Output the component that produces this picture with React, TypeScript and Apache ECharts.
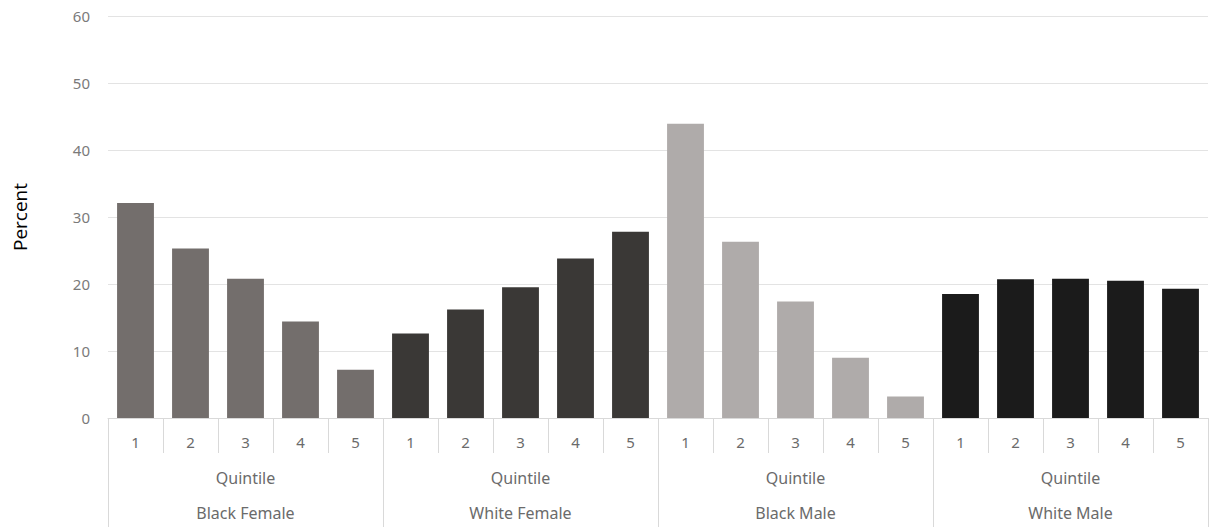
import React, { useEffect, useRef } from "react";
import * as echarts from "echarts";

const groups = ["Black Female", "White Female", "Black Male", "White Male"];
const quintiles = ["1", "2", "3", "4", "5"];
const blackFemale = [32.1, 25.3, 20.8, 14.4, 7.2];
const whiteFemale = [12.6, 16.2, 19.5, 23.8, 27.8];
const blackMale = [43.9, 26.3, 17.4, 9.0, 3.2];
const whiteMale = [18.5, 20.7, 20.8, 20.5, 19.3];
const groupColors = ["#736e6c", "#3a3836", "#afabaa", "#1b1b1b"];
const yTicks = [0, 10, 20, 30, 40, 50, 60];

export default function App() {
  const ref = useRef<HTMLDivElement>(null);
  useEffect(() => {
    if (!ref.current) return;
    const chart = echarts.init(ref.current, undefined, { renderer: "svg" });
    const all = [blackFemale, whiteFemale, blackMale, whiteMale];
    const cats: string[] = [];
    const data: any[] = [];
    all.forEach((arr, gi) => {
      arr.forEach((v, i) => {
        cats.push(quintiles[i]);
        data.push({ value: v, itemStyle: { color: groupColors[gi] } });
      });
    });
    const font = "'Noto Sans', 'Open Sans', sans-serif";
    chart.setOption({
      animation: false,
      grid: {
        left: 108,
        right: 3,
        top: 16,
        bottom: 109,
        containLabel: false,
        outerBoundsMode: "none",
      },
      xAxis: [
        {
          type: "category",
          data: cats,
          axisLine: { show: true, lineStyle: { color: "#d9d9d9", width: 1 } },
          axisTick: { show: true, interval: 0, length: 35, lineStyle: { color: "#d9d9d9" } },
          axisLabel: { interval: 0, color: "#6b6b6b", fontSize: 15, margin: 16, fontFamily: font },
        },
        {
          type: "category",
          data: groups,
          position: "bottom",
          axisLine: { show: false },
          axisTick: { show: true, interval: 0, length: 115, lineStyle: { color: "#d9d9d9" } },
          axisLabel: {
            interval: 0,
            margin: 42,
            color: "#6b6b6b",
            fontSize: 16,
            fontFamily: font,
            lineHeight: 35,
            formatter: (v: string) => "Quintile\n" + v,
          },
        },
      ],
      yAxis: {
        type: "value",
        min: yTicks[0],
        max: yTicks[yTicks.length - 1],
        interval: 10,
        name: "Percent",
        nameLocation: "middle",
        nameRotate: 90,
        nameGap: 79,
        nameTextStyle: { fontSize: 19, color: "#000", fontFamily: "'Open Sans', sans-serif" },
        axisLine: { show: false },
        axisTick: { show: false },
        axisLabel: { color: "#7a7a7a", fontSize: 15, margin: 18, fontFamily: font },
        splitLine: { lineStyle: { color: "#e3e3e3", width: 1 } },
      },
      series: [
        {
          type: "bar",
          xAxisIndex: 0,
          data,
          barCategoryGap: "33%",
        },
      ],
    });
    return () => chart.dispose();
  }, []);
  return (
    <div
      ref={ref}
      style={{ position: "fixed", left: 0, top: 0, width: 1211, height: 527, background: "#fff" }}
    />
  );
}
